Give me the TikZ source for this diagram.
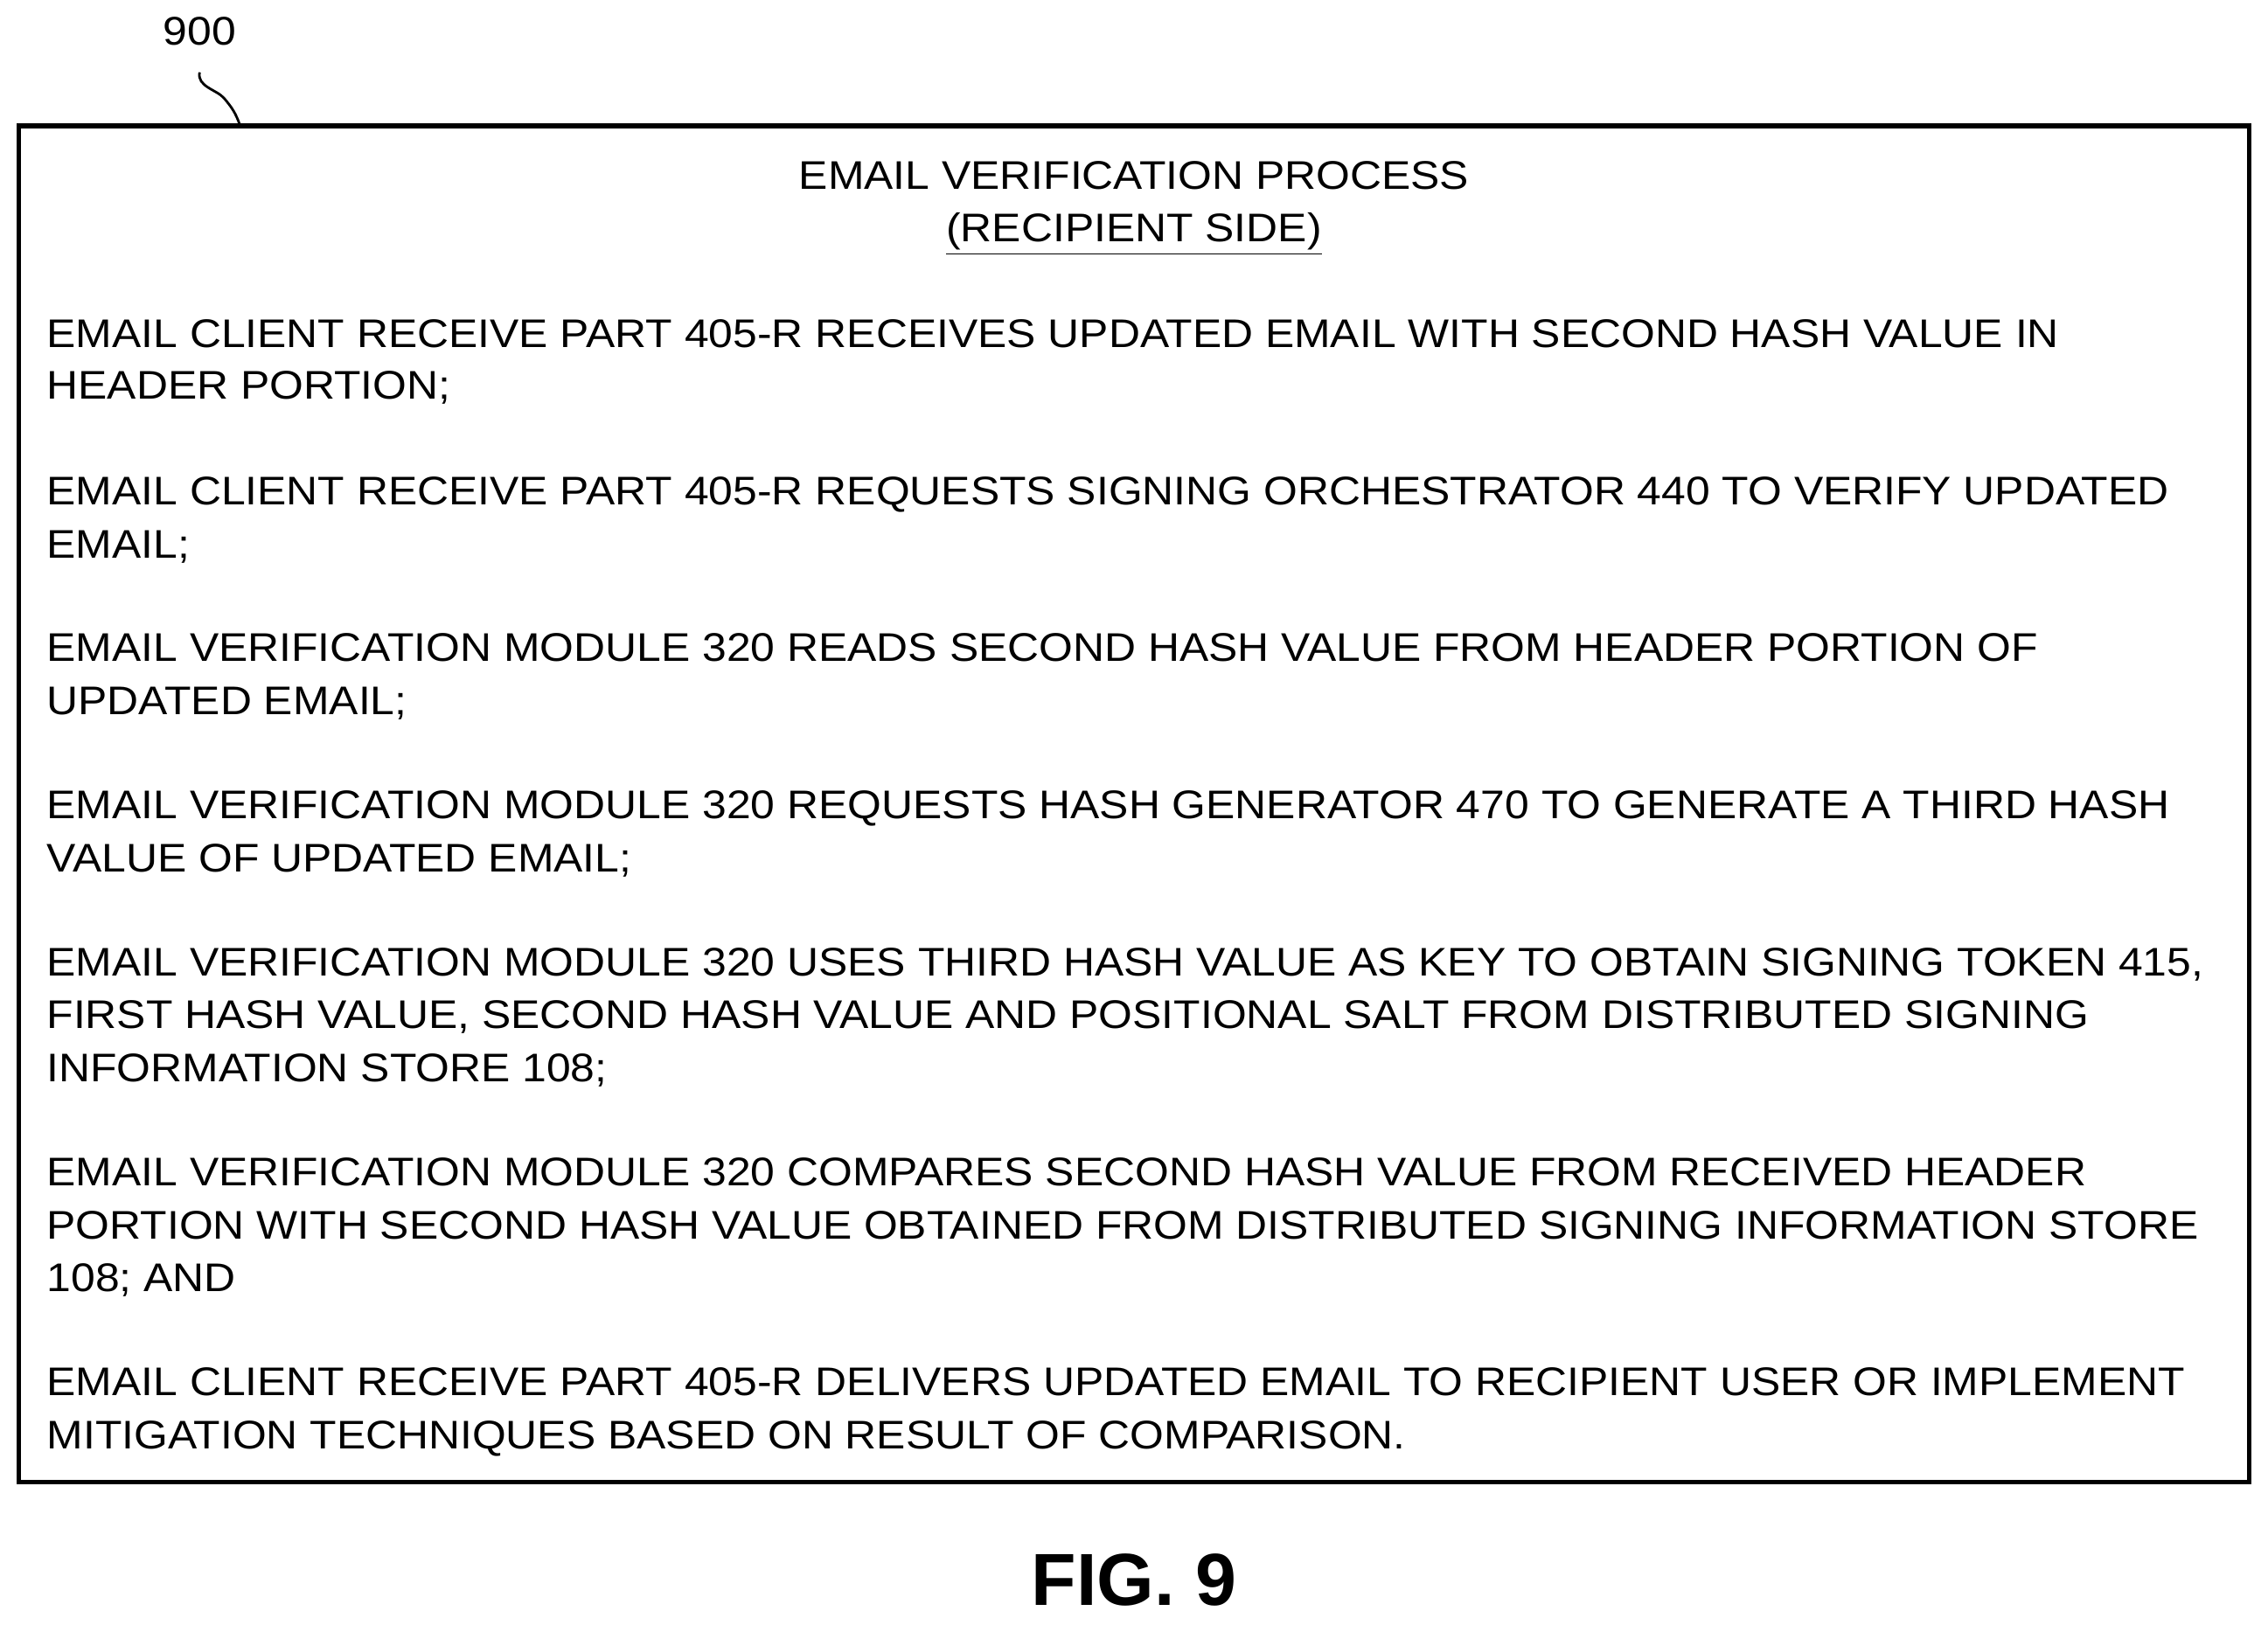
\documentclass[tikz,border=0pt]{standalone}
\usepackage{fontspec}
\setmainfont{Liberation Sans}[FakeStretch=1.091]
\newfontfamily\figfont{Liberation Sans}
\begin{document}
\begin{tikzpicture}[x=0.016543cm,y=-0.016543cm,
  ln/.style={anchor=base west,inner sep=0pt,font=\fontsize{13}{15}\selectfont},
  tl/.style={anchor=base,inner sep=0pt,font=\fontsize{13}{15}\selectfont}]
\useasboundingbox (0,0) rectangle (1568,1123.7);
\draw[line width=1.5pt] (13,87) rectangle (1555,1025);
\node[tl] (lbl) at (138,31) {900};
\draw[line width=0.8pt] (138,50) .. controls (136,60) and (150,62) .. (155,68) .. controls (160,74) and (163,78) .. (166,87);
\node[tl] (t1) at (784,131) {EMAIL VERIFICATION PROCESS};
\node[tl] (t2) at (784,167) {\underline{(RECIPIENT SIDE)}};
\foreach \y/\t in {
240/{EMAIL CLIENT RECEIVE PART 405-R RECEIVES UPDATED EMAIL WITH SECOND HASH VALUE IN},
276/{HEADER PORTION;},
349/{EMAIL CLIENT RECEIVE PART 405-R REQUESTS SIGNING ORCHESTRATOR 440 TO VERIFY UPDATED},
386/{EMAIL;},
457/{EMAIL VERIFICATION MODULE 320 READS SECOND HASH VALUE FROM HEADER PORTION OF},
494/{UPDATED EMAIL;},
566/{EMAIL VERIFICATION MODULE 320 REQUESTS HASH GENERATOR 470 TO GENERATE A THIRD HASH},
603/{VALUE OF UPDATED EMAIL;},
675/{EMAIL VERIFICATION MODULE 320 USES THIRD HASH VALUE AS KEY TO OBTAIN SIGNING TOKEN 415,},
711/{FIRST HASH VALUE, SECOND HASH VALUE AND POSITIONAL SALT FROM DISTRIBUTED SIGNING},
748/{INFORMATION STORE 108;},
820/{EMAIL VERIFICATION MODULE 320 COMPARES SECOND HASH VALUE FROM RECEIVED HEADER},
857/{PORTION WITH SECOND HASH VALUE OBTAINED FROM DISTRIBUTED SIGNING INFORMATION STORE},
893/{108; AND},
965/{EMAIL CLIENT RECEIVE PART 405-R DELIVERS UPDATED EMAIL TO RECIPIENT USER OR IMPLEMENT},
1002/{MITIGATION TECHNIQUES BASED ON RESULT OF COMPARISON.}}
  \node[ln] (l\y) at (32,\y) {\t};
\node[anchor=base,inner sep=0pt,font=\figfont\fontsize{24}{28}\selectfont\bfseries] (fig) at (784,1110) {FIG. 9};
\end{tikzpicture}
\end{document}
